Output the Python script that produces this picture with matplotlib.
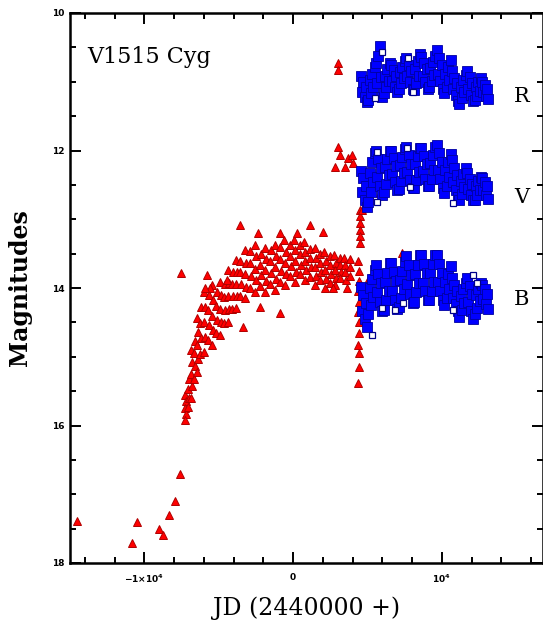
import matplotlib.pyplot as plt
from matplotlib.ticker import MultipleLocator

# photographic plate estimates: quiescence and the slow rise (JD - 2440000, mag)
plate_jd = [
    -14500, -10800, -10470, -8990, -8730, -8320, -7920, -7580,
    -7290, -7220, -7260, -7210, -7280,
    -7030, -7080, -7010, -7070,
    -6880, -6810, -6850, -6800, -6870,
    -6620, -6670, -6600, -6660,
    -6480, -6410, -6450, -6400, -6470,
    -6220, -6270, -6200, -6260,
    -6010, -5940, -5980, -5930, -6000,
    -5680, -5730, -5660, -5720,
    -5480, -5410, -5450, -5400, -5470,
    -5150, -5200, -5130, -5190,
    -4940, -4870, -4910, -4860, -4930,
    -4610, -4660, -4590, -4650,
    -4400, -4330, -4370, -4320, -4390,
    -4070, -4120, -4050, -4110,
    -3860, -3790, -3830, -3780, -3850,
    -3540, -3590, -3520, -3580,
    -3260, -3190, -3230, -3180, -3250,
    -2870, -2920, -2850, -2910,
    -2590, -2520, -2560, -2510, -2580,
    -2190, -2240, -2170, -2230,
    -1920, -1850, -1890, -1840, -1910,
    -1520, -1570, -1500, -1560,
    -1250, -1180, -1220, -1170, -1240,
    -850, -900, -830, -890,
    -580, -510, -550, -500, -570,
    -180, -230, -160, -220,
    90, 160, 120, 170, 100,
    490, 440, 510, 450,
    760, 830, 790, 840, 770,
    1160, 1110, 1180, 1120,
    1440, 1510, 1470, 1520, 1450,
    1830, 1780, 1850, 1790,
    2110, 2180, 2140, 2190, 2120,
    2500, 2450, 2520, 2460,
    2780, 2850, 2810, 2860, 2790,
    3170, 3120, 3190, 3130,
    3450, 3520, 3480, 3530,
    3800, 3850, 3830,
    -7515, -5770, -4430, -5570, -5900, -3560, -2350, -870, 270, 1140,
    2010, -3360, -2210, -870, 2680, 3620,
]
plate_mag = [
    17.39, 17.71, 17.40, 17.50, 17.59, 17.30, 17.10, 16.71,
    15.56, 15.65, 15.74, 15.83, 15.92,
    15.33, 15.47, 15.60, 15.73,
    14.90, 15.08, 15.25, 15.43, 15.60,
    14.77, 14.95, 15.13, 15.32,
    14.44, 14.64, 14.83, 15.03, 15.22,
    14.28, 14.51, 14.73, 14.96,
    14.06, 14.28, 14.50, 14.71, 14.93,
    14.10, 14.32, 14.54, 14.76,
    13.96, 14.18, 14.40, 14.61, 14.83,
    14.06, 14.26, 14.46, 14.66,
    13.91, 14.10, 14.30, 14.49, 14.68,
    13.94, 14.13, 14.32, 14.51,
    13.74, 13.93, 14.12, 14.30, 14.49,
    13.76, 13.94, 14.12, 14.30,
    13.59, 13.77, 13.94, 14.12, 14.29,
    13.60, 13.77, 13.94, 14.11,
    13.45, 13.63, 13.80, 13.98, 14.15,
    13.46, 13.64, 13.82, 14.00,
    13.37, 13.54, 13.72, 13.89, 14.06,
    13.50, 13.66, 13.81, 13.97,
    13.42, 13.58, 13.74, 13.90, 14.06,
    13.45, 13.61, 13.78, 13.94,
    13.37, 13.54, 13.70, 13.87, 14.03,
    13.41, 13.58, 13.75, 13.91,
    13.30, 13.47, 13.63, 13.80, 13.96,
    13.37, 13.53, 13.68, 13.83,
    13.30, 13.45, 13.61, 13.76, 13.91,
    13.37, 13.51, 13.66, 13.80,
    13.33, 13.47, 13.61, 13.74, 13.88,
    13.43, 13.57, 13.70, 13.84,
    13.42, 13.56, 13.69, 13.83, 13.96,
    13.51, 13.64, 13.77, 13.89,
    13.48, 13.61, 13.74, 13.87, 14.00,
    13.54, 13.67, 13.80, 13.93,
    13.52, 13.63, 13.74, 13.85, 13.96,
    13.57, 13.67, 13.76, 13.86,
    13.56, 13.67, 13.77, 13.88,
    13.58, 13.70, 13.82,
    13.78, 13.81, 13.88, 14.00, 14.00, 13.08, 13.20, 13.20, 13.20, 13.08,
    13.19, 14.57, 14.28, 14.36, 14.00, 14.00,
]

# early photoelectric points around the onset of the R, V, B coverage
early_jd = [
    3020, 3040,
    3020, 3150, 2820, 3690, 3960, 4030, 3490,
    4480, 4520, 4490, 4510, 4500, 4470,
    4380, 4420, 4400, 4390, 4410, 4380, 4420, 4400, 4390, 4410, 4400, 4380,
    4630, 5300, 5840,
    4600, 4700, 4900, 5100, 7310,
]
early_mag = [
    10.73, 10.83,
    11.95, 12.07, 12.24, 12.11, 12.07, 12.18, 12.24,
    12.87, 12.95, 13.05, 13.15, 13.25, 13.35,
    13.60, 13.75, 13.90, 14.05, 14.20, 14.35, 14.50, 14.65, 14.83, 14.95, 15.15, 15.38,
    12.87, 12.72, 12.62,
    14.30, 14.10, 13.95, 13.85, 13.49,
]

# CCD monitoring epochs and magnitudes per band
ccd_jd = [
    4550, 4630, 4720, 4800, 4890, 4975,
    5060, 5140, 5230, 5310, 5400, 5485,
    5570, 5650, 5740, 5820, 5910, 5995,
    6080, 6160, 6250, 6330, 6420, 6505,
    6590, 6670, 6760, 6840, 6930, 7015,
    7100, 7180, 7270, 7350, 7440, 7525,
    7610, 7690, 7780, 7860, 7950, 8035,
    8120, 8200, 8290, 8370, 8460, 8545,
    8630, 8710, 8800, 8880, 8970, 9055,
    9140, 9220, 9310, 9390, 9480, 9565,
    9650, 9730, 9820, 9900, 9990, 10075,
    10160, 10240, 10330, 10410, 10500, 10585,
    10670, 10750, 10840, 10920, 11010, 11095,
    11180, 11260, 11350, 11430, 11520, 11605,
    11690, 11770, 11860, 11940, 12030, 12115,
    12200, 12280, 12370, 12450, 12540, 12625,
    12710, 12790, 12880, 12960, 13050, 13130,
]
R_mag = [
    10.92, 11.15, 11.00, 11.22, 11.07, 11.30,
    11.27, 10.98, 11.17, 10.88, 11.07, 10.78,
    10.73, 11.02, 10.62, 10.48, 10.93, 11.22,
    11.17, 10.91, 11.08, 10.82, 10.99, 10.73,
    10.75, 10.99, 10.83, 11.07, 10.91, 11.15,
    11.10, 10.86, 11.02, 10.78, 10.94, 10.70,
    10.66, 10.92, 10.75, 11.01, 10.84, 11.10,
    11.12, 10.81, 11.02, 10.70, 10.91, 10.60,
    10.64, 10.92, 10.73, 11.01, 10.82, 11.10,
    11.08, 10.80, 10.99, 10.71, 10.90, 10.62,
    10.54, 10.88, 10.65, 10.99, 10.76, 11.10,
    11.17, 10.88, 11.07, 10.78, 10.98, 10.68,
    10.85, 11.11, 10.94, 11.19, 11.02, 11.28,
    11.32, 11.07, 11.24, 10.98, 11.15, 10.90,
    10.84, 11.10, 10.93, 11.19, 11.02, 11.28,
    11.27, 11.08, 11.21, 11.01, 11.14, 10.95,
    11.00, 11.15, 11.05, 11.20, 11.10, 11.25,
]
V_mag = [
    12.30, 12.61, 12.40, 12.72, 12.51, 12.82,
    12.75, 12.32, 12.61, 12.17, 12.46, 12.03,
    12.00, 12.39, 12.13, 12.52, 12.26, 12.65,
    12.60, 12.24, 12.48, 12.12, 12.36, 12.00,
    12.00, 12.34, 12.11, 12.46, 12.23, 12.57,
    12.56, 12.21, 12.44, 12.10, 12.33, 11.98,
    11.95, 12.31, 12.07, 12.43, 12.19, 12.55,
    12.54, 12.20, 12.43, 12.08, 12.31, 11.97,
    11.97, 12.30, 12.08, 12.41, 12.19, 12.52,
    12.52, 12.18, 12.41, 12.06, 12.29, 11.95,
    11.92, 12.29, 12.04, 12.42, 12.17, 12.54,
    12.62, 12.28, 12.51, 12.16, 12.39, 12.05,
    12.14, 12.46, 12.25, 12.57, 12.36, 12.68,
    12.72, 12.44, 12.63, 12.34, 12.53, 12.25,
    12.33, 12.56, 12.41, 12.64, 12.49, 12.72,
    12.72, 12.52, 12.65, 12.45, 12.58, 12.38,
    12.40, 12.58, 12.46, 12.64, 12.52, 12.70,
]
B_mag = [
    13.98, 14.33, 14.10, 14.45, 14.22, 14.57,
    14.38, 14.00, 14.25, 13.87, 14.13, 13.74,
    13.66, 14.06, 13.79, 14.20, 13.93, 14.33,
    14.32, 13.91, 14.18, 13.78, 14.05, 13.64,
    13.64, 14.04, 13.77, 14.17, 13.90, 14.30,
    14.28, 13.88, 14.15, 13.75, 14.02, 13.62,
    13.53, 13.94, 13.67, 14.08, 13.81, 14.22,
    14.20, 13.79, 14.06, 13.66, 13.93, 13.52,
    13.52, 13.92, 13.65, 14.05, 13.78, 14.18,
    14.17, 13.78, 14.04, 13.65, 13.91, 13.52,
    13.52, 13.91, 13.65, 14.04, 13.78, 14.17,
    14.25, 13.91, 14.14, 13.79, 14.02, 13.68,
    13.85, 14.14, 13.95, 14.23, 14.04, 14.33,
    14.42, 14.12, 14.32, 14.02, 14.22, 13.92,
    13.85, 14.21, 13.97, 14.33, 14.09, 14.45,
    14.38, 14.10, 14.29, 14.01, 14.19, 13.92,
    13.95, 14.16, 14.02, 14.23, 14.09, 14.30,
]

# lower-weight CCD points, drawn as open squares
open_jd = [5500, 5970, 7720, 8050,
           5640, 5640, 7850, 10740, 7650,
           5300, 5970, 6840, 7380, 10740, 12080, 12350]
open_mag = [11.24, 10.57, 10.65, 11.15,
            12.75, 12.02, 12.53, 12.76, 11.96,
            14.68, 14.29, 14.32, 14.22, 14.32, 13.81, 13.93]

band_names = ['R', 'V', 'B']
band_label_mag = [11.22, 12.68, 14.17]

plt.rcParams['font.family'] = 'DejaVu Serif'

fig = plt.figure(figsize=(5.43, 6.29), dpi=100)
ax = fig.add_axes([70 / 543, 66 / 629, 473 / 543, 550 / 629])

tri = dict(ls='none', marker='^', ms=6, mfc='#ff0000', mec='#b00000', mew=0.7)
ax.plot(plate_jd, plate_mag, **tri)
ax.plot(early_jd, early_mag, **tri)

sq = dict(ls='none', marker='s', ms=7, mfc='#0000ff', mec='#0000a0', mew=0.6)
for mags in (R_mag, V_mag, B_mag):
    ax.plot(ccd_jd, mags, **sq)
ax.plot(open_jd, open_mag, ls='none', marker='s', ms=3.8, mfc='white',
        mec='#00008b', mew=0.9)

ax.set_xlim(-15000, 16800)
ax.set_ylim(18, 10)

ax.set_xticks([-10000, 0, 10000])
ax.set_xticklabels([r'$\mathbf{-1{\times}10^4}$', '0', r'$\mathbf{10^4}$'],
                   fontsize=6.5, fontweight='bold', family='DejaVu Sans')
ax.xaxis.set_minor_locator(MultipleLocator(2000))
ax.set_yticks([10, 12, 14, 16, 18])
ax.set_yticklabels(['10', '12', '14', '16', '18'], fontsize=6.5,
                   fontweight='bold', family='DejaVu Sans')
ax.yaxis.set_minor_locator(MultipleLocator(0.5))

ax.tick_params(which='both', direction='in', top=True, right=True,
               width=1.4, color='black')
ax.tick_params(which='major', length=8)
ax.tick_params(which='minor', length=4)
ax.tick_params(axis='x', pad=7)
ax.tick_params(axis='y', pad=4)
for sp in ax.spines.values():
    sp.set_linewidth(1.8)

ax.set_xlabel('JD (2440000 +)', fontsize=17, labelpad=8)
ax.set_ylabel('Magnitudes', fontsize=17, fontweight='bold', labelpad=14)

ax.text((87 - 70) / 473, (563 - 57) / 550, 'V1515 Cyg', fontsize=16,
        va='center', ha='left', transform=ax.transAxes)

for name, m in zip(band_names, band_label_mag):
    ax.text(14850, m, name, fontsize=15, va='center', ha='left')

fig.savefig('out.png', dpi=100)
